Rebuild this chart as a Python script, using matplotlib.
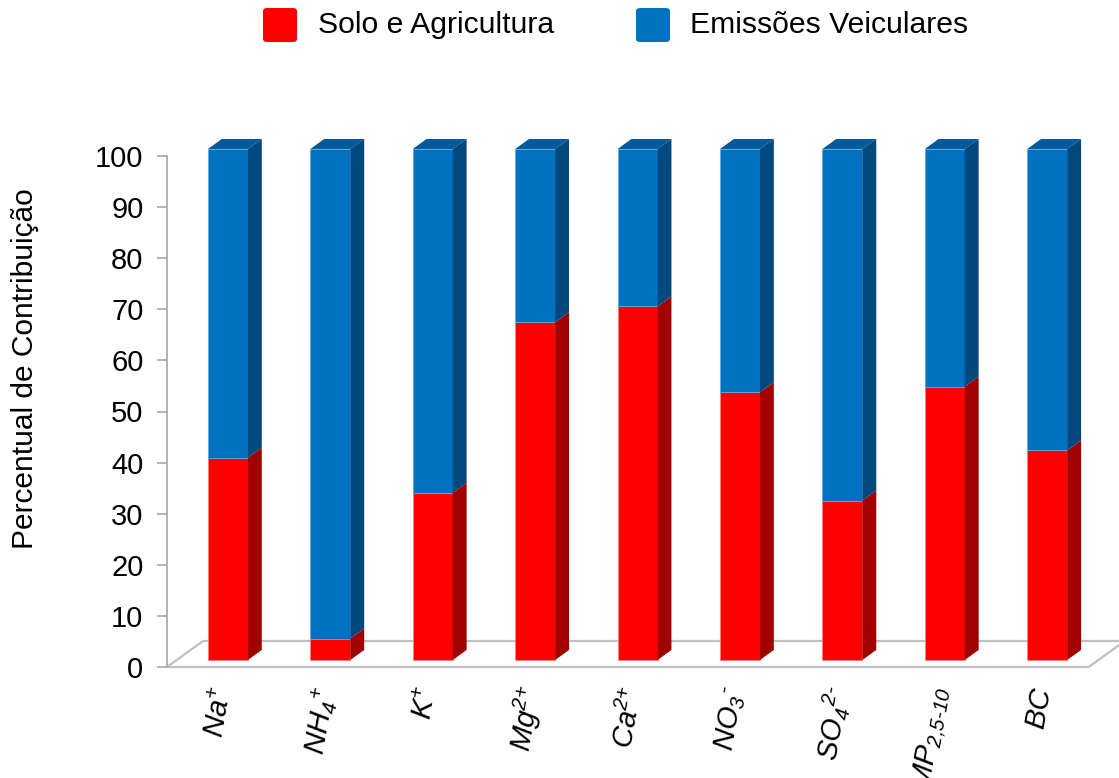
import matplotlib
matplotlib.use("Agg")
import matplotlib.pyplot as plt
from matplotlib.patches import Polygon, FancyBboxPatch
import matplotlib.transforms as mtransforms

plt.rcParams['font.family'] = ['Liberation Sans', 'DejaVu Sans']
plt.rcParams['mathtext.fontset'] = 'custom'
plt.rcParams['mathtext.rm'] = 'Liberation Sans:italic'
plt.rcParams['mathtext.it'] = 'Liberation Sans:italic'
plt.rcParams['mathtext.bf'] = 'Liberation Sans:bold'

# ---- data ----
categories = [r'$\text{Na}^{\text{+}}$',
              r'$\text{NH}_{\text{4}}{}^{\text{+}}$',
              r'$\text{K}^{\text{+}}$',
              r'$\text{Mg}^{\text{2+}}$',
              r'$\text{Ca}^{\text{2+}}$',
              r'$\text{NO}_{\text{3}}{}^{\text{‐}}$',
              r'$\text{SO}_{\text{4}}{}^{\text{2‐}}$',
              r'$\text{MP}_{\text{2,5‐10}}$',
              r'$\text{BC}$']
solo_agricultura = [39.6, 4.2, 32.7, 66.1, 69.2, 52.4, 31.2, 53.5, 41.0]
emissoes_veiculares = [100 - v for v in solo_agricultura]
series_names = ['Solo e Agricultura', 'Emissões Veiculares']
y_ticks = list(range(0, 101, 10))

# ---- colours ----
RED_FRONT, RED_SIDE = '#FF0000', '#A00000'
BLUE_FRONT, BLUE_SIDE, BLUE_TOP = '#0070C0', '#00497F', '#005A9C'
GRID_GRAY = '#BFBFBF'

# ---- oblique projection (depth d in [0, 1] across the floor) ----
PX_X = 102.4          # pixels per category
PX_Y = 5.11           # pixels per percent
DX = 36 / PX_X        # horizontal shift of full floor depth (category units)
DY = 26 / PX_Y        # vertical shift of full floor depth (value units)
D0, D1 = 0.27, 0.655  # front / back depth of the bars
W = 40 / PX_X         # bar width


def proj(x, v, d):
    return (x + d * DX, v + d * DY)


W_PX, H_PX = 1119, 778
fig = plt.figure(figsize=(W_PX / 100, H_PX / 100), dpi=100)
ax = fig.add_axes([167 / W_PX, 111 / H_PX, 921.7 / W_PX, 511 / H_PX])
ax.set_xlim(-0.5, len(categories) - 0.5)
ax.set_ylim(0, 100)

# floor
n = len(categories)
xl, xr = -0.5, n - 0.5
floor = [proj(xl, 0, 0), proj(xr, 0, 0), proj(xr, 0, 1), proj(xl, 0, 1)]
ax.add_patch(Polygon(floor, closed=True, facecolor='white', edgecolor=GRID_GRAY,
                     lw=1.6, clip_on=False, zorder=1))

# bars: front faces through ax.bar, side and top faces as polygons
xs = [i + D0 * DX for i in range(n)]
base = D0 * DY
ax.bar(xs, solo_agricultura, width=W, bottom=base, color=RED_FRONT,
       edgecolor='#FF8080', linewidth=0.6, clip_on=False, zorder=3)
ax.bar(xs, emissoes_veiculares, width=W,
       bottom=[base + s for s in solo_agricultura], color=BLUE_FRONT,
       edgecolor='#5FA8DC', linewidth=0.6, clip_on=False, zorder=3)

for i in range(n):
    x0, x1 = i - W / 2, i + W / 2
    segs = [(0, solo_agricultura[i], RED_SIDE),
            (solo_agricultura[i], solo_agricultura[i] + emissoes_veiculares[i], BLUE_SIDE)]
    for lo, hi, c in segs:
        side = [proj(x1, lo, D0), proj(x1, lo, D1), proj(x1, hi, D1), proj(x1, hi, D0)]
        ax.add_patch(Polygon(side, closed=True, facecolor=c, edgecolor='none',
                             clip_on=False, zorder=3))
    top = solo_agricultura[i] + emissoes_veiculares[i]
    tface = [proj(x0, top, D0), proj(x1, top, D0), proj(x1, top, D1), proj(x0, top, D1)]
    ax.add_patch(Polygon(tface, closed=True, facecolor=BLUE_TOP, edgecolor='none',
                         clip_on=False, zorder=3))

# axes styling
for s in ['top', 'right', 'bottom']:
    ax.spines[s].set_visible(False)
ax.spines['left'].set_color('#A6A6A6')
ax.spines['left'].set_linewidth(1.2)
ax.set_yticks(y_ticks)
ax.set_yticklabels([str(t) for t in y_ticks])
ax.tick_params(axis='y', length=7, width=1.2, color='#A6A6A6', pad=10,
               labelsize=21, labelcolor='black')
ax.set_xticks([])
ax.set_facecolor('none')

fig.text(25 / W_PX, 1 - 369 / H_PX, 'Percentual de Contribuição', rotation=90,
         ha='center', va='center', fontsize=21.5)

# category labels
off = mtransforms.ScaledTranslation(0, -20 / 100, fig.dpi_scale_trans)
for i, lab in enumerate(categories):
    ax.text(i + 0.06, 0, lab, transform=ax.transData + off, rotation=80,
            ha='right', va='center', rotation_mode='anchor', fontsize=21)

# legend across the top
legend_items = [(263, 318, RED_FRONT), (636, 690, BLUE_FRONT)]
for (bx, tx, c), name in zip(legend_items, series_names):
    fig.patches.append(FancyBboxPatch((bx / W_PX, 1 - 42 / H_PX), 34 / W_PX, 34 / H_PX,
                                      boxstyle='round,pad=0,rounding_size=0.004',
                                      transform=fig.transFigure, facecolor=c,
                                      edgecolor='none'))
    fig.text(tx / W_PX, 1 - 25 / H_PX, name, ha='left', va='center', fontsize=21.7)

fig.savefig('out.png', dpi=100)
